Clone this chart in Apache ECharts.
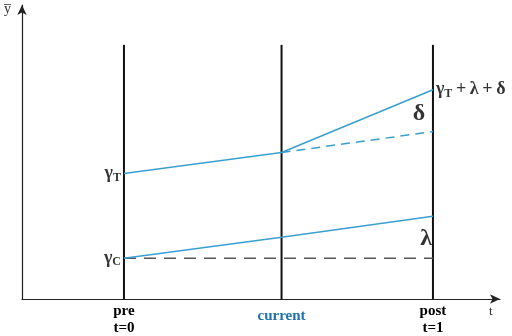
<!DOCTYPE html>
<html>
<head>
<meta charset="utf-8">
<script src="https://cdn.jsdelivr.net/npm/echarts@6/dist/echarts.min.js"></script>
<style>
  html, body { margin: 0; padding: 0; background: #fff; }
  #chart { width: 512px; height: 336px; }
</style>
</head>
<body>
<div id="chart"></div>
<script>
// time positions: pre, current, post
const periods = [0, 0.51, 1];
const periodLabels = ['pre\nt=0', 'current', 'post\nt=1'];
const lineTop = 255;

// outcome values
const treated = [126, 147, 210];
const counterfactual = [147, 168];      // at current, post
const control = [41, 62, 83];
const controlFlat = [41, 41];            // at pre, post

// point labels
const pointLabels = [
  { x: 0, y: 126, text: '{g|γ}{s|T}', pos: 'left' },
  { x: 0, y: 41, text: '{g|γ}{s|C}', pos: 'left' },
  { x: 1, y: 210, text: '{g|γ}{s|T}{p|\u2009+\u2009λ\u2009+\u2009δ}', pos: 'right' },
  { x: 0.955, y: 186, text: '{b|δ}', pos: 'inside' },
  { x: 0.978, y: 60, text: '{b|λ}', pos: 'inside' }
];

const blue = '#3a9fd0';
const serif = '"Liberation Serif", "DejaVu Serif", serif';

let chart = echarts.init(document.getElementById('chart'));

const vLines = periods.map(function (p) {
  return {
    type: 'line', data: [[p, 0], [p, lineTop]], symbol: 'none', silent: true,
    lineStyle: { color: '#111', width: 2 }, z: 1
  };
});

chart.setOption({
  animation: false,
  grid: { left: 22, right: 12, top: 5, bottom: 36 },
  xAxis: {
    type: 'value', min: -0.33, max: 1.217,
    splitLine: { show: false },
    axisLine: { onZero: false, lineStyle: { color: '#222', width: 1.2 }, symbol: ['none', 'arrow'], symbolSize: [7, 10] },
    axisTick: { show: false },
    axisLabel: {
      customValues: periods,
      formatter: function (v) {
        let i = periods.indexOf(v);
        if (i === 1) return '{c|' + periodLabels[i] + '}';
        return '{k|' + periodLabels[i].split('\n').join('}\n{k|') + '}';
      },
      margin: 4,
      rich: {
        k: { fontFamily: serif, fontWeight: 'bold', fontSize: 15, color: '#000', lineHeight: 17 },
        c: { fontFamily: serif, fontWeight: 'bold', fontSize: 15, color: '#1e73a8', padding: [6, 0, 0, 0] }
      }
    }
  },
  yAxis: {
    type: 'value', min: 0, max: 295,
    splitLine: { show: false },
    axisLine: { show: true, onZero: false, lineStyle: { color: '#222', width: 1.2 }, symbol: ['none', 'arrow'], symbolSize: [7, 10] },
    axisTick: { show: false },
    axisLabel: { show: false }
  },
  graphic: [
    { type: 'text', left: 4, top: 2, style: { text: 'y\u0305', font: '14px ' + serif, fill: '#333' } },
    { type: 'text', left: 489, top: 305, style: { text: 't', font: '13px ' + serif, fill: '#333' } }
  ],
  series: vLines.concat([
    {
      type: 'line', data: periods.map(function (p, i) { return [p, treated[i]]; }),
      symbol: 'none', lineStyle: { color: blue, width: 1.5 }, z: 3
    },
    {
      type: 'line', data: periods.slice(1).map(function (p, i) { return [p, counterfactual[i]]; }),
      symbol: 'none', lineStyle: { color: blue, width: 1.5, type: [9, 6] }, z: 3
    },
    {
      type: 'line', data: periods.map(function (p, i) { return [p, control[i]]; }),
      symbol: 'none', lineStyle: { color: blue, width: 1.5 }, z: 3
    },
    {
      type: 'line', data: [[periods[0], controlFlat[0]], [periods[2], controlFlat[1]]],
      symbol: 'none', lineStyle: { color: '#555', width: 1.5, type: [12, 8] }, z: 2
    },
    {
      type: 'scatter', symbolSize: 0, z: 5,
      data: pointLabels.map(function (d) {
        return {
          value: [d.x, d.y],
          label: { show: true, position: d.pos, distance: 3, formatter: d.text, color: '#000' }
        };
      }),
      label: {
        color: '#000',
        rich: {
          g: { fontFamily: serif, fontWeight: 'bold', fontSize: 18, color: '#000' },
          p: { fontFamily: serif, fontWeight: 'bold', fontSize: 18, color: '#000' },
          s: { fontFamily: serif, fontWeight: 'bold', fontSize: 12, color: '#000', padding: [8, 0, 0, 0] },
          b: { fontFamily: serif, fontWeight: 'bold', fontSize: 24, color: '#000' }
        }
      }
    }
  ])
});
</script>
</body>
</html>
